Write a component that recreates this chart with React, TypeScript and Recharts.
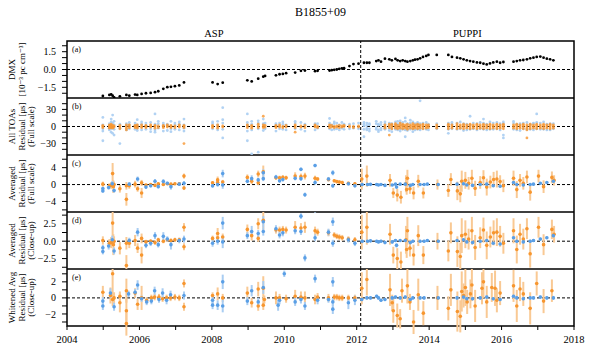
import { ScatterChart, Scatter, XAxis, YAxis, ReferenceLine, ReferenceArea, ErrorBar, Label } from 'recharts';

// ---- data, decimal years ----

const dmxTimes = [
  2004.99, 2005.17, 2005.22, 2005.26, 2005.30, 2005.46, 2005.64, 2005.72, 2005.88, 2005.94,
  2006.06, 2006.18, 2006.31, 2006.43, 2006.52, 2006.66, 2006.77, 2006.87, 2006.98, 2007.10,
  2007.23, 2008.02, 2008.16, 2008.30, 2008.98, 2009.10, 2009.28, 2009.42, 2009.47, 2009.77,
  2009.87, 2009.96, 2010.05, 2010.30, 2010.46, 2010.57, 2010.85, 2010.92, 2011.25, 2011.31,
  2011.38, 2011.45, 2011.52, 2011.59, 2011.65, 2011.80, 2011.91, 2012.05, 2012.20, 2012.28,
  2012.35, 2012.54, 2012.60, 2012.67, 2012.78, 2012.90, 2012.97, 2013.07, 2013.13, 2013.20,
  2013.27, 2013.34, 2013.40, 2013.48, 2013.55, 2013.61, 2013.68, 2013.75, 2013.83, 2013.92,
  2013.98, 2014.21, 2014.53, 2014.63, 2014.77, 2014.86, 2014.95, 2015.04, 2015.13, 2015.22,
  2015.32, 2015.41, 2015.50, 2015.59, 2015.68, 2015.77, 2015.87, 2015.96, 2016.05, 2016.33,
  2016.42, 2016.51, 2016.60, 2016.70, 2016.79, 2016.88, 2016.97, 2017.07, 2017.16, 2017.25,
  2017.34, 2017.43,
];

const dmxValues = [
  -2.23, -2.14, -2.10, -2.20, -2.34, -2.26, -2.14, -2.20, -2.11, -2.14,
  -2.06, -2.00, -1.97, -1.91, -1.83, -1.63, -1.49, -1.46, -1.40, -1.34,
  -1.09, -1.09, -1.23, -1.11, -0.91, -1.00, -0.77, -0.60, -0.54, -0.49,
  -0.40, -0.37, -0.31, -0.26, -0.11, -0.09, -0.14, -0.11, -0.09, -0.06,
  -0.03, 0.00, 0.06, 0.09, 0.11, 0.29, 0.46, 0.49, 0.57, 0.57,
  0.57, 0.71, 0.77, 0.66, 0.91, 0.86, 0.77, 0.89, 0.77, 0.71,
  0.77, 0.71, 0.66, 0.71, 0.77, 0.83, 0.86, 0.94, 1.06, 1.14,
  1.23, 1.23, 1.23, 1.06, 1.00, 0.94, 0.86, 0.77, 0.71, 0.66,
  0.60, 0.57, 0.49, 0.43, 0.51, 0.60, 0.66, 0.57, 0.63, 0.66,
  0.71, 0.77, 0.80, 0.86, 0.94, 1.00, 1.06, 1.09, 1.00, 0.91,
  0.86, 0.77,
];

// All TOAs: residuals (us) per observing epoch, same epochs as dmxTimes
const toaBlue: number[][] = [
  [3, -4, 16, -25, -8], [5, -6, 2, -3], [8, -10, 13, -4], [20, -12, 6, -2], [-5, 3, -15, 9],
  [-30, 4, -3], [5, -6, 2], [-4, 3, 7], [6, -5, 2], [12, -7, 3, -2],
  [4, -6, 8], [-5, 6, 2], [7, -4, -9], [22, -6, 4, -10], [5, -3, 9],
  [-8, 6, 3], [4, -7, 2], [9, -4, -9], [3, -5, 6], [-6, 4, 8],
  [13, -8, 3, -3], [5, -4, 8], [-6, 3, 9], [33, -20, 6, -5, 12], [22, -25, 7, -8, 3],
  [-48, 9, -6, 4], [-45, 6, -4, 10], [13, -7, 5], [-4, 6], [-8, 5, 3],
  [6, -4], [-5, 4, 8], [3, -6], [6, -4, 9], [-5, 7],
  [4, -8], [-6, 5, 3], [5, -3], [14, -4, 6], [-6, 3],
  [5, -5, 8], [-4, 6], [3, -6], [7, -3], [-5, 4],
  [4, -4], [-3, 5], [6, -4], [-18, 4, -5, 7, 1], [6, -6, 2, -3],
  [-4, 5, -8, 3], [5, -5, 9, -2], [-6, 4, 2, -9], [7, -3, -6, 3], [-5, 8, -2, 4],
  [6, -7, 2, -3], [-4, 5, -9, 3], [8, -5, 3, -2], [-6, 4, 9], [6, -4, 10, -8],
  [-5, 7, 2], [-18, 15, 9, -6], [-7, 5, -3], [6, -5, 11], [-4, 8, -9],
  [5, -6], [-5, 4, 7], [45, -6, 5], [6, -4], [-5, 7],
  [4, -6], [5, -4], [-12, -5, 6], [-4, 4, 7], [6, -5],
  [-4, 8], [5, -7], [-6, 4], [18, -5, 3], [-4, 6],
  [5, -6], [-4, 7], [13, -5, 6], [4, -6], [-5, 8],
  [6, -5], [-4, 7], [5, -6], [-20, -15, 5, 8], [6, -5, 9],
  [-6, 4], [5, -7], [-4, 6], [7, -5], [-5, 4],
  [6, -6, 5], [22, -4, 7], [6, -5], [-5, 8], [4, -6],
  [-6, 5], [5, -4],
];

const toaOrange: number[][] = [
  [-2, 0, 2], [-3, -1, 1, 3], [-2, 0, 2, 4], [-3, -1, 2], [-1, 1],
  [-4, -1, 2], [-3, 0, 3, -6], [-2, 1, 3], [-2, 0, 2], [-3, -1, 1, 3],
  [-2, 0, 3], [-2, 0, 2], [-1, 1, 3], [-3, 0, 2], [-2, 1],
  [-2, 0, 2], [-1, 1, 3], [-2, 0, 2], [-2, 1], [-1, 1, 3],
  [-30, -2, 0, 2], [-2, 0, 2], [-3, 0, 3], [-1, 1], [-2, 1, 3],
  [-3, 0, 2], [-2, 1, 4], [18, -2, 0, 3], [-1, 2], [-2, 0, 2],
  [-1, 1, 3], [-2, 0], [-1, 2], [-10, -2, 1, 3], [-1, 1],
  [-2, 2], [-1, 1, 3], [-2, 0], [-2, 1, 3], [-1, 2],
  [-2, 0], [-1, 1], [-2, 2], [-1, 1], [0, 2],
  [-1, 1], [-2, 0], [-1, 1], [], [],
  [], [], [], [], [-3, 0, 3],
  [-15, -2, 1, 4], [-4, -1, 2, 4], [-3, 0, 3, 5], [-4, -1, 2], [-3, 0, 3, 6],
  [-4, -1, 2, 4], [-3, 0, 3], [-5, -2, 1, 4], [-3, 0, 3], [-4, -1, 2, 5],
  [-3, 0, 3], [-4, -1, 2, 4], [-3, 0, 3], [-4, -1, 2, 4], [-3, 0, 3],
  [-2, 1, 3], [-3, 0, 3], [-4, -1, 2, 4], [-3, 0, 3], [-4, -1, 2, 5],
  [-3, 0, 3], [-4, -1, 2, 4], [-3, 0, 3], [-4, -1, 2, 4], [-3, 0, 3],
  [-4, -1, 2, 4], [-3, 0, 3], [-4, -1, 2, 4], [-3, 0, 3], [-4, -1, 2, 4],
  [-3, 0, 3], [-4, -1, 2, 4], [-3, 0, 3], [-4, -1, 2, 4], [-3, 0, 3],
  [-4, -1, 2, 4], [-3, 0, 3], [-4, -1, 2, 4], [-20, -6, -3, 0, 3], [-4, -1, 2, 4],
  [-3, 0, 3], [-4, -1, 2, 4], [-3, 0, 3], [-4, -1, 2, 4], [-3, 0, 3],
  [-4, -1, 2, 4], [-3, 0, 3],
];

// Averaged residuals [year, residual (us), uncertainty (us)]
const avgBlue: number[][] = [
  [2004.99, -0.95, 0.4], [2004.99, -1.5, 0.4], [2005.15, -0.7, 0.5], [2005.25, 0.2, 0.6], [2005.3, -1.4, 0.5],
  [2005.72, 0.1, 0.4], [2005.95, 1.3, 0.6], [2006.18, -0.6, 0.4], [2006.31, -0.3, 0.4], [2006.43, 0.8, 0.5],
  [2006.52, -0.5, 0.4], [2006.66, 0.7, 0.6], [2006.77, 0.3, 0.4], [2006.87, -0.5, 0.7], [2007.1, 0.1, 0.4],
  [2007.23, 0.3, 0.5], [2008.02, -0.3, 0.5], [2008.16, 0.0, 0.5], [2008.3, 2.6, 0.9], [2008.3, -0.1, 0.9],
  [2008.98, 0.8, 0.5], [2009.1, 1.4, 0.8], [2009.28, 1.1, 0.5], [2009.42, 1.4, 0.6], [2009.42, 2.8, 0.8],
  [2009.77, 1.8, 0.5], [2009.87, 0.9, 0.5], [2009.96, 1.2, 0.5], [2010.3, 1.5, 0.5], [2010.46, 3.6, 0.4],
  [2010.46, 1.4, 0.5], [2010.57, -2.4, 0.5], [2010.85, 4.5, 0.4], [2010.85, 0.5, 0.5], [2011.22, 1.3, 0.5],
  [2011.34, 2.8, 0.6], [2011.34, -0.3, 0.5], [2011.77, 0.2, 0.4], [2011.95, -0.3, 0.4],
  [2012.15, 0.0, 0.2], [2012.3, 0.0, 0.2], [2012.38, 0.05, 0.2], [2012.55, 0.0, 0.2], [2012.6, -0.1, 0.2],
  [2012.67, 0.0, 0.2], [2012.78, -0.2, 0.2], [2012.98, -0.1, 0.25], [2013.07, 0.1, 0.2], [2013.1, -0.6, 0.3],
  [2013.2, 0.1, 0.2], [2013.34, 0.1, 0.2], [2013.48, -0.2, 0.2], [2013.55, 0.0, 0.2], [2013.75, 0.0, 0.2],
  [2013.86, 0.0, 0.2], [2013.95, 0.1, 0.2], [2014.25, 0.0, 0.2], [2014.77, 0.1, 0.2], [2014.95, 0.2, 0.2],
  [2015.04, -0.1, 0.2], [2015.2, -0.2, 0.2], [2015.41, 0.0, 0.2], [2015.59, 0.1, 0.2], [2015.77, -0.3, 0.2],
  [2015.96, -0.4, 0.2], [2016.33, 0.5, 0.2], [2016.42, 0.0, 0.2], [2016.6, -0.1, 0.2], [2016.79, 0.0, 0.2],
  [2016.88, 0.1, 0.2], [2017.07, 0.3, 0.2], [2017.25, 0.5, 0.2], [2017.43, 0.8, 0.25],
];

const avgOrange: number[][] = [
  [2004.99, 0.1, 0.6], [2005.17, -0.3, 0.6], [2005.22, -0.2, 0.8], [2005.26, 2.6, 2.5], [2005.28, -0.5, 1.5],
  [2005.3, 0.0, 0.7], [2005.46, -1.0, 0.9], [2005.64, -0.3, 0.9], [2005.64, -3.5, 1.5], [2005.72, -0.3, 0.7],
  [2005.88, 0.1, 0.8], [2005.95, -1.0, 0.7], [2006.06, -2.0, 1.2], [2006.06, 0.4, 0.7], [2006.18, -0.1, 0.3],
  [2006.31, 0.0, 0.3], [2006.43, -0.2, 0.3], [2006.52, 0.2, 0.3], [2006.66, 0.0, 0.3], [2006.77, 0.2, 0.3],
  [2006.87, 0.1, 0.3], [2006.98, 0.2, 0.3], [2007.1, 0.2, 0.3], [2007.23, 2.0, 0.6], [2007.23, -0.8, 0.5],
  [2008.02, 0.4, 0.4], [2008.16, 1.1, 0.8], [2008.16, 0.5, 0.4], [2008.3, 0.6, 0.5], [2008.98, 1.7, 0.7],
  [2009.1, 0.8, 0.7], [2009.28, 2.5, 0.8], [2009.28, 0.4, 0.5], [2009.42, 3.0, 1.5], [2009.77, 1.6, 0.5],
  [2009.87, 1.6, 0.5], [2009.96, 1.7, 0.5], [2010.05, 1.6, 0.5], [2010.3, 2.0, 0.9], [2010.46, 1.9, 0.7],
  [2010.57, 2.0, 0.8], [2010.85, 1.5, 0.6], [2010.92, 1.3, 0.5], [2011.22, 1.2, 0.5], [2011.38, 0.9, 0.4],
  [2011.45, 0.7, 0.4], [2011.52, 0.6, 0.4], [2011.6, 0.5, 0.4], [2011.77, 0.3, 0.4], [2011.95, 0.2, 0.4],
  [2012.14, 1.3, 2.5], [2012.28, 2.0, 2.5], [2012.92, 1.0, 1.5], [2013.01, -2.0, 1.2], [2013.12, -2.5, 1.5],
  [2013.22, -3.0, 1.5], [2013.36, 0.2, 2.0], [2013.38, -1.2, 1.2], [2013.4, 1.5, 2.0], [2013.47, -1.0, 1.2],
  [2013.57, -2.0, 1.5], [2013.7, 0.8, 1.5], [2013.84, -2.0, 1.3], [2014.23, 0.0, 1.2], [2014.53, -1.4, 1.5],
  [2014.6, 1.2, 1.5], [2014.78, -1.5, 2.2], [2014.86, -2.2, 2.0], [2014.9, 0.8, 2.5], [2015.0, 1.0, 2.0],
  [2015.09, 0.3, 1.5], [2015.18, 1.5, 2.0], [2015.27, -0.9, 1.8], [2015.41, 0.5, 1.5], [2015.5, 1.6, 1.8],
  [2015.59, -0.6, 2.0], [2015.69, 0.6, 1.5], [2015.78, 1.2, 1.8], [2015.87, 1.3, 2.0], [2015.96, 0.7, 1.5],
  [2016.05, -0.3, 1.5], [2016.33, 1.5, 1.8], [2016.42, -1.2, 2.0], [2016.51, 1.0, 1.5], [2016.6, 0.3, 1.5],
  [2016.7, 1.8, 1.5], [2016.79, -1.8, 2.0], [2017.02, 2.0, 1.5], [2017.16, -0.5, 1.5], [2017.39, 1.7, 1.4],
  [2017.45, 1.0, 1.2],
];

// Whitened averaged residuals [year, residual (us), uncertainty (us)]
const whiteBlue: number[][] = [
  [2004.99, -0.4, 0.5], [2004.99, -1.0, 0.5], [2005.2, 0.6, 0.6], [2005.3, -1.1, 0.5], [2005.7, 0.5, 0.4],
  [2005.88, 0.7, 0.4], [2005.95, 1.6, 0.6], [2006.06, -0.1, 0.4], [2006.2, -0.5, 0.4], [2006.33, -0.4, 0.4],
  [2006.42, 0.9, 0.5], [2006.54, -0.2, 0.4], [2006.64, 0.6, 0.6], [2006.75, -0.3, 0.5], [2006.86, 0.4, 0.5],
  [2007.23, 0.3, 0.5], [2008.02, -0.3, 0.5], [2008.02, -0.9, 0.5], [2008.16, -0.9, 0.6], [2008.3, 2.0, 0.9],
  [2008.3, -1.0, 0.8], [2008.98, -0.4, 0.5], [2009.1, 0.9, 0.7], [2009.28, -0.5, 0.5], [2009.42, 1.3, 0.8],
  [2009.83, -0.9, 0.7], [2009.87, -0.3, 0.5], [2010.0, 3.0, 0.4], [2010.3, -0.5, 0.5], [2010.46, -0.2, 0.5],
  [2010.57, -1.0, 0.5], [2010.85, 2.4, 0.5], [2010.92, -0.3, 0.5], [2011.22, -0.2, 0.4], [2011.34, 2.0, 0.6],
  [2011.34, -0.5, 0.5], [2011.34, -1.4, 0.6], [2011.77, -0.6, 0.8], [2011.95, -0.3, 0.6],
  [2012.14, -0.2, 0.2], [2012.28, 0.0, 0.2], [2012.38, 0.0, 0.2], [2012.55, 0.2, 0.2], [2012.6, 0.0, 0.2],
  [2012.67, -0.3, 0.2], [2012.78, -0.2, 0.2], [2012.98, 0.0, 0.25], [2013.07, 0.1, 0.2], [2013.2, 0.0, 0.2],
  [2013.34, 0.1, 0.2], [2013.48, -0.2, 0.2], [2013.55, 0.0, 0.2], [2013.75, 0.0, 0.2], [2013.86, 0.0, 0.2],
  [2014.25, 0.0, 0.2], [2014.77, 0.0, 0.2], [2014.95, 0.1, 0.2], [2015.04, -0.1, 0.2], [2015.2, -0.1, 0.2],
  [2015.41, 0.0, 0.2], [2015.59, 0.1, 0.2], [2015.77, -0.1, 0.2], [2015.96, -0.2, 0.2], [2016.33, 0.2, 0.2],
  [2016.42, 0.0, 0.2], [2016.6, -0.1, 0.2], [2016.79, 0.0, 0.2], [2016.88, 0.0, 0.2], [2017.07, 0.1, 0.2],
  [2017.25, 0.0, 0.2], [2017.43, 0.0, 0.25],
];

const whiteOrange: number[][] = [
  [2004.99, 0.7, 0.8], [2005.2, 0.3, 1.0], [2005.26, 3.0, 3.0], [2005.26, -0.2, 0.8], [2005.3, 0.0, 0.7],
  [2005.46, -0.6, 1.2], [2005.46, 0.2, 0.6], [2005.64, 0.9, 1.5], [2005.64, -1.6, 1.5], [2005.64, -3.2, 1.5],
  [2005.88, 0.6, 0.6], [2005.95, -0.8, 0.7], [2006.06, 0.0, 1.5], [2006.2, -0.3, 0.4], [2006.33, 0.0, 0.4],
  [2006.42, 0.1, 0.4], [2006.54, 0.1, 0.4], [2006.64, -0.1, 0.4], [2006.75, 0.0, 0.4], [2006.86, 0.0, 0.4],
  [2006.98, 0.1, 0.4], [2007.1, 0.0, 0.4], [2007.23, 1.8, 0.5], [2007.23, -1.1, 0.5], [2008.02, 0.3, 0.4],
  [2008.16, 0.5, 0.8], [2008.3, 0.0, 0.5], [2008.98, 0.6, 0.8], [2009.1, -0.6, 0.6], [2009.28, 1.1, 0.9],
  [2009.28, -1.0, 0.6], [2009.42, 1.2, 1.5], [2009.42, -0.9, 0.6], [2009.45, -0.2, 0.5], [2009.77, 0.0, 0.8],
  [2009.87, 0.0, 0.5], [2010.05, -0.1, 0.5], [2010.3, 0.2, 0.8], [2010.46, 0.1, 0.7], [2010.57, 0.0, 0.8],
  [2010.85, -0.2, 0.6], [2010.92, 0.1, 0.5], [2011.22, 0.0, 0.5], [2011.38, 0.1, 0.4], [2011.45, 0.1, 0.4],
  [2011.52, 0.0, 0.4], [2011.6, 0.0, 0.4], [2011.77, 0.0, 0.4], [2011.95, 0.0, 0.4],
  [2012.14, 1.2, 2.0], [2012.28, 2.3, 2.0], [2012.92, 1.0, 2.0], [2012.98, -0.6, 1.0], [2013.01, -1.6, 1.5],
  [2013.12, -2.2, 1.5], [2013.2, -2.6, 1.2], [2013.25, 0.9, 1.5], [2013.4, 1.5, 2.2], [2013.47, -0.5, 1.0],
  [2013.57, -3.0, 1.5], [2013.7, 0.4, 2.0], [2013.84, -1.9, 1.5], [2014.23, 0.0, 1.5], [2014.53, -1.3, 1.5],
  [2014.6, 1.0, 2.0], [2014.78, -1.7, 2.5], [2014.86, -2.3, 2.0], [2014.9, 0.8, 2.5], [2014.95, 0.3, 1.5],
  [2015.0, 1.3, 2.3], [2015.05, -0.5, 1.5], [2015.14, 0.5, 1.8], [2015.18, 1.6, 2.0], [2015.27, -1.0, 2.0],
  [2015.46, 1.2, 2.0], [2015.5, 2.0, 2.0], [2015.59, -0.5, 2.0], [2015.73, 1.3, 1.8], [2015.82, 1.2, 2.2],
  [2015.87, -0.3, 1.5], [2015.96, 0.6, 1.5], [2016.33, 1.5, 2.0], [2016.42, -1.0, 2.0], [2016.51, 1.1, 1.5],
  [2016.6, 0.5, 1.5], [2016.79, -1.3, 2.0], [2016.97, 1.8, 1.5], [2017.16, -0.4, 1.5], [2017.39, 0.9, 1.4],
];

const yearTicks = [2004, 2005, 2006, 2007, 2008, 2009, 2010, 2011, 2012, 2013, 2014, 2015, 2016, 2017, 2018];
const backendSwitch = 2012.11;

// ---- layout ----
const W = 592;
const PLOT_LEFT = 67;
const PLOT_RIGHT = 574;
const AXIS_W = 30;
const PANEL_H = 57;
const FIRST_TOP = 41;

const BLUE = '#5a9fe6';
const BLUE_LIGHT = '#a9cdf2';
const ORANGE = '#f7962f';
const ORANGE_LIGHT = '#f9c994';
const FONT = '"Liberation Serif", "DejaVu Serif", serif';

const dmxData = dmxTimes.map((t, i) => ({ t, y: dmxValues[i] }));
const toaBlueData = dmxTimes.flatMap((t, i) => toaBlue[i].map((y) => ({ t, y })));
const toaOrangeData = dmxTimes.flatMap((t, i) => toaOrange[i].map((y) => ({ t, y })));
const toPts = (rows: number[][]) => rows.map(([t, y, e]) => ({ t, y, e }));

const fmt = (v: number, digits: number) => v.toFixed(digits).replace('-', '\u2212');

function AxisTitle({ viewBox, lines }: any) {
  const cy = viewBox.y + viewBox.height / 2;
  return (
    <g>
      {lines.map((s: string, i: number) => {
        const x = viewBox.x - 25 + i * 9.5;
        return (
          <text key={i} x={x} y={cy} transform={`rotate(-90, ${x}, ${cy})`} textAnchor="middle"
            dominantBaseline="central" fontSize={9} fill="#000" fontFamily={FONT}>
            {s}
          </text>
        );
      })}
    </g>
  );
}

function dot(color: string, r: number, opacity = 1) {
  return (p: any) => <circle cx={p.cx} cy={p.cy} r={r} fill={color} fillOpacity={opacity} />;
}

function Panel({ index, domain, ticks, majors, digits, lines, letter, children }: any) {
  const first = index === 0;
  const last = index === 4;
  const top = first ? 0 : FIRST_TOP + index * PANEL_H;
  const height = PANEL_H + (first ? FIRST_TOP : 0) + (last ? 27 : 0);
  return (
    <div style={{ position: 'absolute', left: 0, top, width: W, height }}>
      <ScatterChart width={W} height={height}
        margin={{ top: first ? FIRST_TOP : 0, right: W - PLOT_RIGHT, bottom: 0, left: PLOT_LEFT - AXIS_W }}>
        <XAxis type="number" dataKey="t" domain={[2004, 2018]} ticks={yearTicks} interval={0} hide={!last}
          height={27} allowDataOverflow axisLine={false} tickSize={4} tickMargin={6}
          tick={{ fontSize: 10.5, fill: '#000' }} tickLine={{ stroke: '#000' }}
          tickFormatter={(v: number) => (v % 2 === 0 ? String(v) : '')} />
        <YAxis type="number" dataKey="y" domain={domain} ticks={ticks} interval={0} width={AXIS_W}
          allowDataOverflow axisLine={false} tickSize={5} tickMargin={6}
          tick={{ fontSize: 10, fill: '#000' }} tickLine={{ stroke: '#000' }}
          tickFormatter={(v: number) => (majors.includes(v) ? fmt(v, digits) : '')}>
          <Label content={(p: any) => <AxisTitle viewBox={p.viewBox} lines={lines} />} />
        </YAxis>
        <ReferenceLine y={0} stroke="#000" strokeWidth={1} strokeDasharray="3 2" />
        <ReferenceLine x={backendSwitch} stroke="#000" strokeWidth={1} strokeDasharray="3 2" />
        {children}
        {first && (
          <ReferenceArea x1={2004} x2={backendSwitch} y1={domain[0]} y2={domain[1]} fill="none" stroke="none"
            label={{ value: 'ASP', position: 'top', offset: 4, fontSize: 10.5, fill: '#000' }} />
        )}
        {first && (
          <ReferenceArea x1={backendSwitch} x2={2018} y1={domain[0]} y2={domain[1]} fill="none" stroke="none"
            label={{ value: 'PUPPI', position: 'top', offset: 4, fontSize: 10.5, fill: '#000' }} />
        )}
        <ReferenceArea x1={2004} x2={2018} y1={domain[0]} y2={domain[1]} fill="none" stroke="#000" strokeWidth={1.5}
          label={{ value: letter, position: 'insideTopLeft', offset: 5, fontSize: 8, fill: '#000' }} />
      </ScatterChart>
    </div>
  );
}

function residualSeries(blue: number[][], orange: number[][]) {
  return [
    <Scatter key="o" data={toPts(orange)} isAnimationActive={false} shape={dot(ORANGE, 1.8)}>
      <ErrorBar dataKey="e" direction="y" width={0} stroke={ORANGE_LIGHT} strokeWidth={2} />
    </Scatter>,
    <Scatter key="b" data={toPts(blue)} isAnimationActive={false} shape={dot(BLUE, 1.8)}>
      <ErrorBar dataKey="e" direction="y" width={0} stroke={BLUE_LIGHT} strokeWidth={2} />
    </Scatter>,
  ];
}

export default function App() {
  return (
    <div style={{ position: 'absolute', left: 0, top: 0, width: W, height: 353, background: '#fff', fontFamily: FONT, overflow: 'hidden' }}>
      <div style={{ position: 'absolute', left: PLOT_LEFT, width: PLOT_RIGHT - PLOT_LEFT, top: 5, textAlign: 'center', fontSize: 12 }}>
        B1855+09
      </div>

      <Panel index={0} domain={[-2.4, 2.4]} ticks={[-2, -1.5, -1, -0.5, 0, 0.5, 1, 1.5, 2]} majors={[-1.5, 0, 1.5]}
        digits={1} letter="(a)" lines={['DMX', '[10\u207B\u00B3 pc cm\u207B\u00B3]']}>
        {[<Scatter key="dmx" data={dmxData} isAnimationActive={false} shape={dot('#000', 1.4)} />]}
      </Panel>

      <Panel index={1} domain={[-50, 50]} ticks={[-40, -30, -20, -10, 0, 10, 20, 30, 40]} majors={[-30, 0, 30]}
        digits={0} letter="(b)" lines={['All TOAs', 'Residual [\u03BCs]', '(Full scale)']}>
        {[
          <Scatter key="tb" data={toaBlueData} isAnimationActive={false} shape={dot(BLUE_LIGHT, 1.4, 0.9)} />,
          <Scatter key="to" data={toaOrangeData} isAnimationActive={false} shape={dot(ORANGE, 1.4, 0.8)} />,
        ]}
      </Panel>

      <Panel index={2} domain={[-6.5, 7]} ticks={[-6, -4, -2, 0, 2, 4, 6]} majors={[-4, 0, 4]}
        digits={0} letter="(c)" lines={['Averaged', 'Residual [\u03BCs]', '(Full scale)']}>
        {residualSeries(avgBlue, avgOrange)}
      </Panel>

      <Panel index={3} domain={[-4, 4.2]} ticks={[-3.75, -2.5, -1.25, 0, 1.25, 2.5, 3.75]} majors={[-2.5, 0, 2.5]}
        digits={1} letter="(d)" lines={['Averaged', 'Residual [\u03BCs]', '(Close-up)']}>
        {residualSeries(avgBlue, avgOrange)}
      </Panel>

      <Panel index={4} domain={[-3.5, 3.6]} ticks={[-3, -2, -1, 0, 1, 2, 3]} majors={[-2, 0, 2]}
        digits={0} letter="(e)" lines={['Whitened Avg', 'Residual [\u03BCs]', '(Close-up)']}>
        {residualSeries(whiteBlue, whiteOrange)}
      </Panel>
    </div>
  );
}
